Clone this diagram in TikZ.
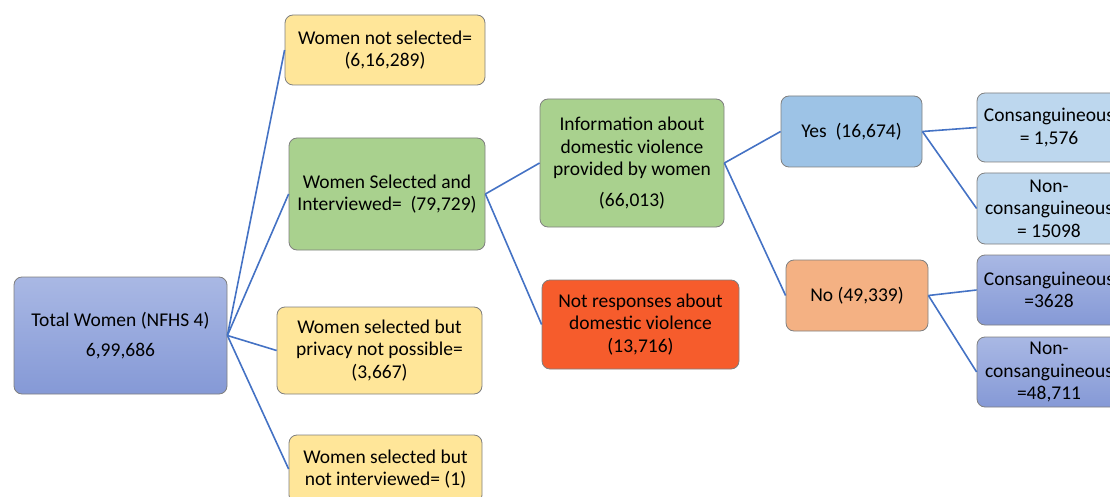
\documentclass[tikz,border=0pt]{standalone}
\usepackage{fontspec}
\setmainfont{Carlito}
\usepackage{xcolor}
\usepackage{tikz}
\definecolor{edge}{HTML}{4472C4}
\definecolor{rim}{HTML}{7F7F7F}
\definecolor{gold}{HTML}{FFE699}
\definecolor{leaf}{HTML}{A9D18E}
\definecolor{flame}{HTML}{F65C2C}
\definecolor{sky}{HTML}{9DC3E6}
\definecolor{peach}{HTML}{F4B183}
\definecolor{pale}{HTML}{BDD7EE}
\definecolor{steeltop}{HTML}{A9B8E4}
\definecolor{steelbot}{HTML}{8599D6}
\tikzset{
  box/.style={draw=rim, line width=0.8pt, rounded corners=8pt, align=center,
    inner sep=0pt, font=\fontsize{19.5}{22.5}\selectfont},
  goldbox/.style={box, fill=gold},
  leafbox/.style={box, fill=leaf},
  steelbox/.style={box, top color=steeltop, bottom color=steelbot},
  link/.style={draw=edge, line width=1.6pt},
}
\begin{document}
\begin{tikzpicture}[x=1pt,y=-1pt]
  \useasboundingbox (0,0) rectangle (1110,497);
  \clip (0,0) rectangle (1110,497);

  % root and first level
  \node[steelbox, minimum width=213pt, minimum height=117pt] (total) at (120.5,335.5)
    {Total Women (NFHS 4)\\[8pt]6,99,686};
  \node[goldbox, minimum width=200pt, minimum height=70pt] (notsel) at (385,50)
    {Women not selected=\\(6,16,289)};
  \node[leafbox, minimum width=196pt, minimum height=112pt] (selint) at (387,194)
    {Women Selected and\\Interviewed=~~(79,729)};
  \node[goldbox, minimum width=205pt, minimum height=87pt] (privacy) at (379.5,350.5)
    {Women selected but\\privacy not possible=\\(3,667)};
  \node[goldbox, minimum width=193pt, minimum height=68pt] (notint) at (385.5,469)
    {Women selected but\\not interviewed= (1)};

  % second level
  \node[leafbox, minimum width=184pt, minimum height=128pt] (info) at (632,163)
    {Information about\\domestic violence\\provided by women\\[8pt](66,013)};
  \node[box, fill=flame, minimum width=197pt, minimum height=89pt] (notresp) at (640.5,324.5)
    {Not responses about\\domestic violence\\(13,716)};

  % answers
  \node[box, fill=sky, minimum width=141pt, minimum height=71pt] (yes) at (851.5,131.5)
    {Yes~~(16,674)};
  \node[box, fill=peach, minimum width=142pt, minimum height=71pt] (no) at (857,295.5)
    {No (49,339)};

  % consanguinity, cut at the right edge
  \node[box, fill=pale, minimum width=144pt, minimum height=69pt] (cons1) at (1049,127.5)
    {Consanguineous\\= 1,576};
  \node[box, fill=pale, minimum width=144pt, minimum height=71pt] (noncons1) at (1049,208.5)
    {Non-\\consanguineous\\= 15098};
  \node[steelbox, minimum width=144pt, minimum height=70pt] (cons2) at (1049,290)
    {Consanguineous\\=3628};
  \node[steelbox, minimum width=144pt, minimum height=70pt] (noncons2) at (1049,372)
    {Non-\\consanguineous\\=48,711};

  \draw[link] (total.east) -- (notsel.west);
  \draw[link] (total.east) -- (selint.west);
  \draw[link] (total.east) -- (privacy.west);
  \draw[link] (total.east) -- (notint.west);
  \draw[link] (selint.east) -- (info.west);
  \draw[link] (selint.east) -- (notresp.west);
  \draw[link] (info.east) -- (yes.west);
  \draw[link] (info.east) -- (no.west);
  \draw[link] (yes.east) -- (cons1.west);
  \draw[link] (yes.east) -- (noncons1.west);
  \draw[link] (no.east) -- (cons2.west);
  \draw[link] (no.east) -- (noncons2.west);
\end{tikzpicture}
\end{document}
